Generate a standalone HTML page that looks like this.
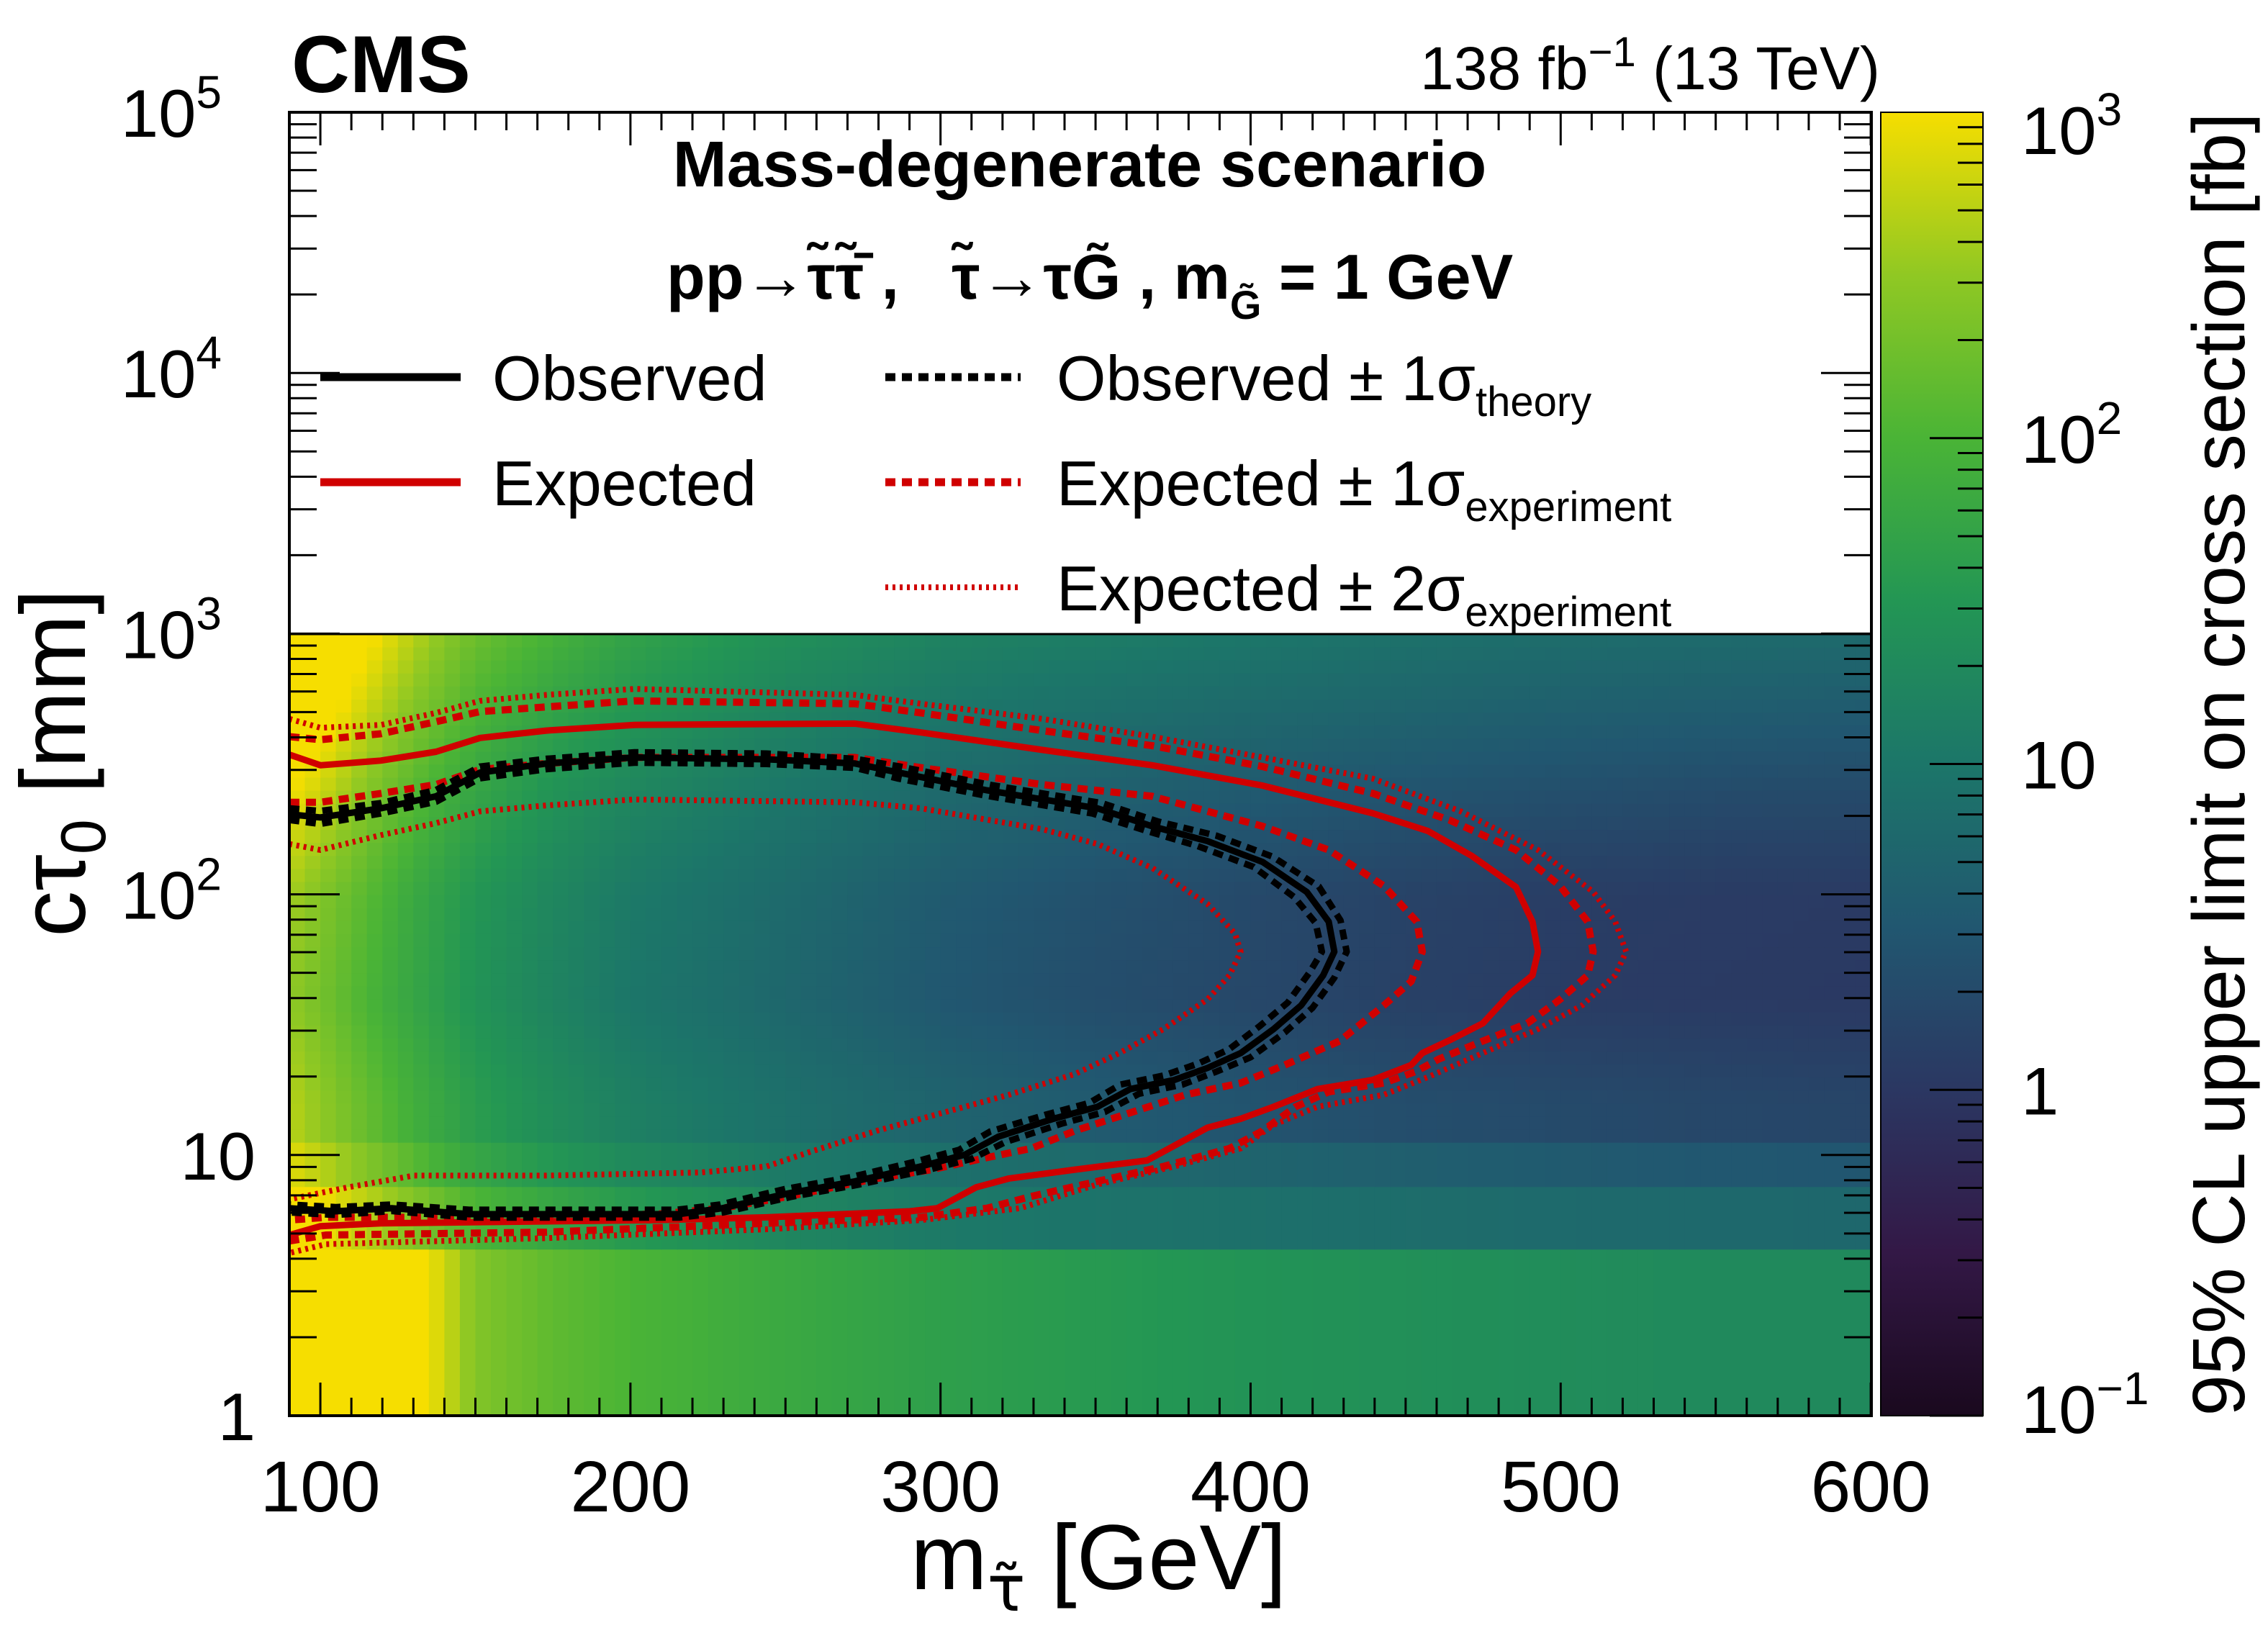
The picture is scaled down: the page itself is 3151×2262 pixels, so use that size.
<!DOCTYPE html>
<html><head><meta charset="utf-8"><style>
html,body{margin:0;padding:0;background:#fff}
svg{display:block}
text{font-family:"Liberation Sans",Arial,sans-serif}
</style></head><body>
<svg id="chart" width="3151" height="2262" viewBox="0 0 3151 2262" xmlns="http://www.w3.org/2000/svg">
<defs>
<linearGradient id="vir" x1="0" y1="1" x2="0" y2="0">
<stop offset="0" stop-color="#1a091e"/><stop offset="0.125" stop-color="#331846"/><stop offset="0.25" stop-color="#2b3762"/><stop offset="0.375" stop-color="#215770"/><stop offset="0.5" stop-color="#1c7669"/><stop offset="0.625" stop-color="#239654"/><stop offset="0.75" stop-color="#4ab436"/><stop offset="0.875" stop-color="#90c823"/><stop offset="1" stop-color="#f6de00"/>
</linearGradient>
<clipPath id="heatclip"><rect x="402" y="881" width="2198" height="1086"/></clipPath>
</defs>
<rect x="0" y="0" width="3151" height="2262" fill="#fff"/>
<g id="heat" clip-path="url(#heatclip)"></g>
<g id="contours" clip-path="url(#heatclip)"></g>
<line x1="402" y1="881" x2="2600" y2="881" stroke="#000" stroke-width="3"/>
<rect x="402" y="156" width="2198" height="1811" fill="none" stroke="#000" stroke-width="4"/>
<g id="ticks" stroke="#000" stroke-width="3"></g>
<g id="labels"></g>

<text x="405" y="128" font-size="112" font-weight="bold">CMS</text>
<text x="2612" y="124" font-size="84" text-anchor="end">138 fb<tspan dy="-32" font-size="58">−1</tspan><tspan dy="32"> (13 TeV)</tspan></text>

<text x="1265" y="2208" font-size="128" xml:space="preserve">m<tspan dy="30" font-size="88" font-family="DejaVu Sans, sans-serif">τ̃</tspan><tspan dy="-30"> [GeV]</tspan></text>
<text transform="translate(118,1060) rotate(-90)" font-size="128" text-anchor="middle">cτ<tspan dy="28" font-size="88">0</tspan><tspan dy="-28"> [mm]</tspan></text>

<rect x="2613" y="156" width="142" height="1811" fill="url(#vir)" stroke="#000" stroke-width="2"/>
<g id="cbticks" stroke="#000" stroke-width="3"></g>
<g id="cblabels"></g>
<text transform="translate(3118,1062) rotate(-90)" font-size="103" text-anchor="middle">95% CL upper limit on cross section [fb]</text>

<text x="1500" y="259" font-size="90" font-weight="bold" text-anchor="middle">Mass-degenerate scenario</text>
<text x="926" y="415" font-size="88" font-weight="bold" xml:space="preserve">pp→τ̃τ̃̄ ,   τ̃→τG̃ , m<tspan dy="28" font-size="56">G̃</tspan><tspan dy="-28"> = 1 GeV</tspan></text>

<g>
<g>
<line x1="445" y1="524" x2="640" y2="524" stroke="#000" stroke-width="11"/>
<text x="684" y="556" font-size="88">Observed</text></g>
<g>
<line x1="445" y1="670" x2="640" y2="670" stroke="#d00000" stroke-width="11"/>
<text x="684" y="702" font-size="88">Expected</text></g>
<g>
<line x1="1230" y1="524" x2="1418" y2="524" stroke="#000" stroke-width="11" stroke-dasharray="14,9"/>
<text x="1468" y="556" font-size="88">Observed ± 1σ<tspan dy="22" font-size="58">theory</tspan></text></g>
<g>
<line x1="1230" y1="670" x2="1418" y2="670" stroke="#d00000" stroke-width="11" stroke-dasharray="14,9"/>
<text x="1468" y="702" font-size="88">Expected ± 1σ<tspan dy="22" font-size="58">experiment</tspan></text></g>
<g>
<line x1="1230" y1="816" x2="1418" y2="816" stroke="#d00000" stroke-width="8" stroke-dasharray="4,6"/>
<text x="1468" y="848" font-size="88">Expected ± 2σ<tspan dy="22" font-size="58">experiment</tspan></text></g>
</g>
</svg>
<script>
// ---- heatmap data: log10(sigma/fb) at mass grid, per ctau band ----
const massGrid = [90,100,110,120,130,140,150,175,200,250,300,350,400,450,500,550,600];
const band0 = [3.3,3.3,3.3,3.2,3.1,2.8,2.4,2.15,2.0,1.8,1.65,1.55,1.45,1.4,1.35,1.3,1.3];
const band1 = [3.1,3.0,2.8,2.6,2.4,2.2,2.0,1.75,1.55,1.25,1.05,0.95,0.9,0.85,0.8,0.78,0.75];
const band2 = [2.9,2.7,2.5,2.3,2.1,1.9,1.75,1.5,1.3,1.05,0.9,0.8,0.7,0.62,0.55,0.5,0.48];
const bandEdges = [0,0.64,0.88,1.05];
const anchorLogCtau = [1.2,1.6,2.0,2.4,2.7,3.0];
const row12 = [2.7,2.5,2.3,2.1,1.9,1.75,1.6,1.35,1.15,0.9,0.7,0.55,0.45,0.35,0.3,0.25,0.22];
const row16 = [2.5,2.3,2.1,1.9,1.75,1.6,1.45,1.2,1.0,0.75,0.5,0.35,0.25,0.15,0.08,0.05,0.03];
const row20 = [2.6,2.4,2.2,2.0,1.8,1.65,1.5,1.25,1.05,0.8,0.55,0.4,0.28,0.18,0.1,0.07,0.05];
const row24 = [3.0,2.8,2.55,2.3,2.1,1.9,1.75,1.45,1.25,1.0,0.8,0.65,0.55,0.45,0.38,0.32,0.3];
const row27 = [3.3,3.15,2.9,2.65,2.4,2.2,2.0,1.7,1.5,1.2,1.0,0.88,0.78,0.7,0.62,0.58,0.55];
const row30 = [3.4,3.35,3.2,2.95,2.7,2.45,2.25,1.95,1.7,1.4,1.2,1.1,1.0,0.92,0.85,0.82,0.8];

// ---- contour data (mass GeV, log10 ctau/mm) ----
const obsMass = [90,100,119.5,137.3,151.5,172.9,201.3,243.9,272.4,286.6,315,350.6,368.3,386.1,403.9,418.1,425.2,427,423.4,416.3,407.4,396.8,386.1,375.4,361.2,350.6,336.4,318.6,308,293.7,272.4,251,229.7,215.5,148,123,105,90];
const obsLogCtau = [2.307,2.295,2.330,2.376,2.467,2.502,2.525,2.518,2.502,2.467,2.399,2.330,2.261,2.204,2.124,2.009,1.895,1.780,1.689,1.574,1.483,1.391,1.334,1.288,1.253,1.185,1.139,1.070,1.002,0.956,0.899,0.853,0.796,0.773,0.773,0.796,0.784,0.796];
const obsUpMass = [90,100,119.5,137.3,151.5,172.9,201.3,243.9,272.4,287,316,352,370,389,407,422,429,431,427,420,411,400,389,378,364,353,339,321,310,295,273,252,230,216,148,123,105,90];
const obsUpLogCtau = [2.33,2.32,2.35,2.40,2.49,2.52,2.545,2.54,2.52,2.49,2.42,2.35,2.28,2.225,2.145,2.03,1.90,1.78,1.68,1.565,1.47,1.375,1.32,1.27,1.235,1.165,1.12,1.05,0.985,0.94,0.885,0.84,0.78,0.76,0.76,0.785,0.77,0.78];
const obsDnMass = [90,100,119.5,137.3,151.5,172.9,201.3,243.9,272.4,286,314,349,366,383,401,414,421,423,419,412,403,393,383,372,358,348,334,316,306,292,271,250,229,215,148,123,105,90];
const obsDnLogCtau = [2.285,2.27,2.31,2.355,2.445,2.48,2.505,2.50,2.485,2.445,2.38,2.31,2.245,2.185,2.105,1.99,1.89,1.78,1.70,1.585,1.495,1.405,1.35,1.305,1.27,1.2,1.155,1.09,1.02,0.975,0.915,0.87,0.81,0.79,0.79,0.81,0.80,0.81];
const expMass = [90,100,119.5,137.3,151.5,172.9,201.3,272.4,293.7,332.8,368.3,403.9,439.4,457.2,471.4,485.6,490.9,492.7,490.9,483.8,474.9,464.3,455.4,451.8,439.4,421.6,407.4,396.8,386.1,366.6,343.4,322.1,311.5,299,290.1,243.9,208.4,119.5,100,90];
const expLogCtau = [2.536,2.495,2.513,2.547,2.600,2.628,2.650,2.655,2.621,2.554,2.495,2.417,2.311,2.243,2.147,2.028,1.895,1.780,1.689,1.620,1.505,1.441,1.391,1.345,1.288,1.253,1.185,1.139,1.105,0.979,0.944,0.910,0.876,0.796,0.784,0.761,0.750,0.738,0.727,0.693];
const expUpMass = [90,100,119.5,137.3,151.5,172.9,201.3,272.4,293.7,332.8,368.3,403.9,439.4,464.3,485.6,499.8,508.7,510.5,508.7,499.8,489.2,474.9,460.7,453.6,443.0,425.2,414.5,403.9,393.2,371.9,350.6,329.2,315.0,293.7,243.9,172.9,101.8,90];
const expUpLogCtau = [2.605,2.593,2.616,2.662,2.701,2.719,2.742,2.731,2.696,2.628,2.570,2.490,2.387,2.284,2.170,2.032,1.895,1.780,1.689,1.597,1.505,1.437,1.368,1.322,1.276,1.242,1.185,1.093,1.025,0.956,0.899,0.841,0.796,0.761,0.738,0.704,0.693,0.670];
const expDnMass = [90,100,119.5,137.3,151.5,172.9,201.3,272.4,293.7,332.8,368.3,403.9,425.2,443.0,453.6,455.4,451.8,443.0,428.7,411.0,396.8,379.0,361.2,343.4,329.2,315.0,297.2,279.5,251.0,229.7,208.4,137.3,101.8,90];
const expDnLogCtau = [2.353,2.353,2.387,2.421,2.479,2.502,2.525,2.525,2.486,2.421,2.376,2.261,2.170,2.032,1.895,1.780,1.666,1.574,1.437,1.345,1.276,1.231,1.162,1.093,1.025,0.990,0.944,0.910,0.841,0.796,0.773,0.761,0.761,0.750];
const exp2UpMass = [90,100,119.5,137.3,151.5,172.9,201.3,272.4,293.7,332.8,368.3,403.9,439.4,467.8,492.7,510.5,517.6,521.1,517.6,506.9,492.7,474.9,457.2,443.0,421.6,407.4,396.8,375.4,350.6,325.7,293.7,243.9,172.9,101.8,90];
const exp2UpLogCtau = [2.673,2.639,2.650,2.696,2.742,2.765,2.788,2.765,2.731,2.673,2.605,2.525,2.444,2.318,2.170,2.009,1.895,1.780,1.689,1.574,1.483,1.391,1.299,1.231,1.185,1.116,1.025,0.956,0.887,0.796,0.750,0.715,0.681,0.658,0.624];
const exp2DnMass = [90,100,119.5,137.3,151.5,172.9,201.3,272.4,293.7,332.8,350.6,368.3,386.1,395.0,396.8,393.2,386.1,371.9,357.7,343.4,322.1,300.8,279.5,258.2,243.9,222.6,172.9,130.2,108.9,90];
const exp2DnLogCtau = [2.193,2.170,2.227,2.273,2.318,2.341,2.364,2.353,2.330,2.250,2.193,2.101,1.963,1.849,1.780,1.689,1.597,1.483,1.391,1.311,1.231,1.162,1.093,1.013,0.956,0.933,0.921,0.921,0.876,0.830];

// ---- tick labels ----
const xTickValues = [100,200,300,400,500,600];
const yTickExps = [0,1,2,3,4,5];
const yTickLabels = ["1","10","10","10","10","10"];
const yTickSups = ["","","2","3","4","5"];
const cbTickExps = [-1,0,1,2,3];
const cbTickLabels = ["10","1","10","10","10"];
const cbTickSups = ["−1","","","2","3"];

const NS = "http://www.w3.org/2000/svg";
const X = m => 402 + (m - 90) * 4.308;
const Y = lc => 1967 - lc * 362.2;
const CY = ls => 1967 - (ls + 1) * 452.75;
function mk(tag, attrs, parent){const e=document.createElementNS(NS,tag);for(const k in attrs)e.setAttribute(k,attrs[k]);parent.appendChild(e);return e;}

const pal = [[26,9,30],[51,24,70],[43,55,98],[33,87,112],[28,118,105],[35,150,84],[74,180,54],[144,200,35],[246,222,0]];
function color(ls){let t=(ls+1)/4;t=Math.max(0,Math.min(1,t));const f=t*8,i=Math.min(7,Math.floor(f)),r=f-i;const c=pal[i].map((v,k)=>Math.round(v+(pal[i+1][k]-v)*r));return `rgb(${c[0]},${c[1]},${c[2]})`;}
function atMass(arr,m){for(let i=0;i<massGrid.length-1;i++){if(m<=massGrid[i+1]){const r=(m-massGrid[i])/(massGrid[i+1]-massGrid[i]);return arr[i]+(arr[i+1]-arr[i])*Math.max(0,r);}}return arr[arr.length-1];}
const anchorRows=[row12,row16,row20,row24,row27,row30];
function smoothVal(m,lc){if(lc<=anchorLogCtau[0])return atMass(row12,m);for(let j=0;j<anchorLogCtau.length-1;j++){if(lc<=anchorLogCtau[j+1]){const r=(lc-anchorLogCtau[j])/(anchorLogCtau[j+1]-anchorLogCtau[j]);return atMass(anchorRows[j],m)*(1-r)+atMass(anchorRows[j+1],m)*r;}}return atMass(row30,m);}

const heat=document.getElementById('heat');
const rows=[];
[band0,band1,band2].forEach((b,i)=>rows.push({lo:bandEdges[i],hi:bandEdges[i+1],f:m=>atMass(b,m)}));
for(let lc=1.05;lc<3.0-1e-6;lc+=0.05){const c=lc+0.025;rows.push({lo:lc,hi:lc+0.05,f:m=>smoothVal(m,c)});}
for(const row of rows){for(let m=90;m<600;m+=5){const v=row.f(m+2.5);
const r=mk('rect',{x:X(m),y:Y(row.hi),width:X(m+5)-X(m)+1,height:Y(row.lo)-Y(row.hi)+1,fill:color(v)},heat);

}}

const cg=document.getElementById('contours');
function contour(ms,ls,stroke,w,dash,name){const d=ms.map((m,i)=>(i?'L':'M')+X(m).toFixed(1)+','+Y(ls[i]).toFixed(1)).join(' ');
const p=mk('path',{d:d,fill:'none',stroke:stroke,'stroke-width':w,'stroke-linejoin':'round'},cg);if(dash)p.setAttribute('stroke-dasharray',dash);

}
contour(exp2UpMass,exp2UpLogCtau,'#d00000',8,'4,6','expected-plus-2sigma');
contour(exp2DnMass,exp2DnLogCtau,'#d00000',8,'4,6','expected-minus-2sigma');
contour(expUpMass,expUpLogCtau,'#d00000',10,'14,9','expected-plus-1sigma');
contour(expDnMass,expDnLogCtau,'#d00000',10,'14,9','expected-minus-1sigma');
contour(expMass,expLogCtau,'#d00000',9,null,'expected-contour');
contour(obsUpMass,obsUpLogCtau,'#000',9,'14,9','observed-plus-theory');
contour(obsDnMass,obsDnLogCtau,'#000',9,'14,9','observed-minus-theory');
contour(obsMass,obsLogCtau,'#000',9,null,'observed-contour');

const tg=document.getElementById('ticks'),lg=document.getElementById('labels');
for(let m=90;m<=600;m+=10){const major=m%100===0;const L=major?46:25;
const t1=mk('line',{x1:X(m),y1:1967,x2:X(m),y2:1967-L},tg);
const t2=mk('line',{x1:X(m),y1:156,x2:X(m),y2:156+L},tg);}
for(let e=0;e<5;e++){for(let k=1;k<10;k++){const lc=e+Math.log10(k);const L=k===1?70:38;
const a=mk('line',{x1:402,y1:Y(lc),x2:402+L,y2:Y(lc)},tg);
const b=mk('line',{x1:2600,y1:Y(lc),x2:2600-L,y2:Y(lc)},tg);}}
xTickValues.forEach(v=>{const t=mk('text',{x:X(v),y:2100,'font-size':100,'text-anchor':'middle'},lg);t.textContent=v;
});
yTickExps.forEach((e,i)=>{const t=mk('text',{x:yTickSups[i]?308:355,y:Y(e)+34,'font-size':94,'text-anchor':'end'},lg);t.textContent=yTickLabels[i];
if(yTickSups[i]){const s=mk('tspan',{dy:-40,'font-size':64},t);s.textContent=yTickSups[i];}
});

const cbt=document.getElementById('cbticks'),cbl=document.getElementById('cblabels');
for(let e=-1;e<3;e++){for(let k=1;k<10;k++){const ls=e+Math.log10(k);const L=k===1?74:35;
const a=mk('line',{x1:2755-L,y1:CY(ls),x2:2755,y2:CY(ls)},cbt);}}
cbTickExps.forEach((e,i)=>{let y=CY(e)+34;if(e===3)y+=24;if(e===-1)y-=10;
const t=mk('text',{x:2808,y:y,'font-size':94},cbl);t.textContent=cbTickLabels[i];
if(cbTickSups[i]){const s=mk('tspan',{dy:-40,'font-size':64},t);s.textContent=cbTickSups[i];}
});
</script>
</body></html>
